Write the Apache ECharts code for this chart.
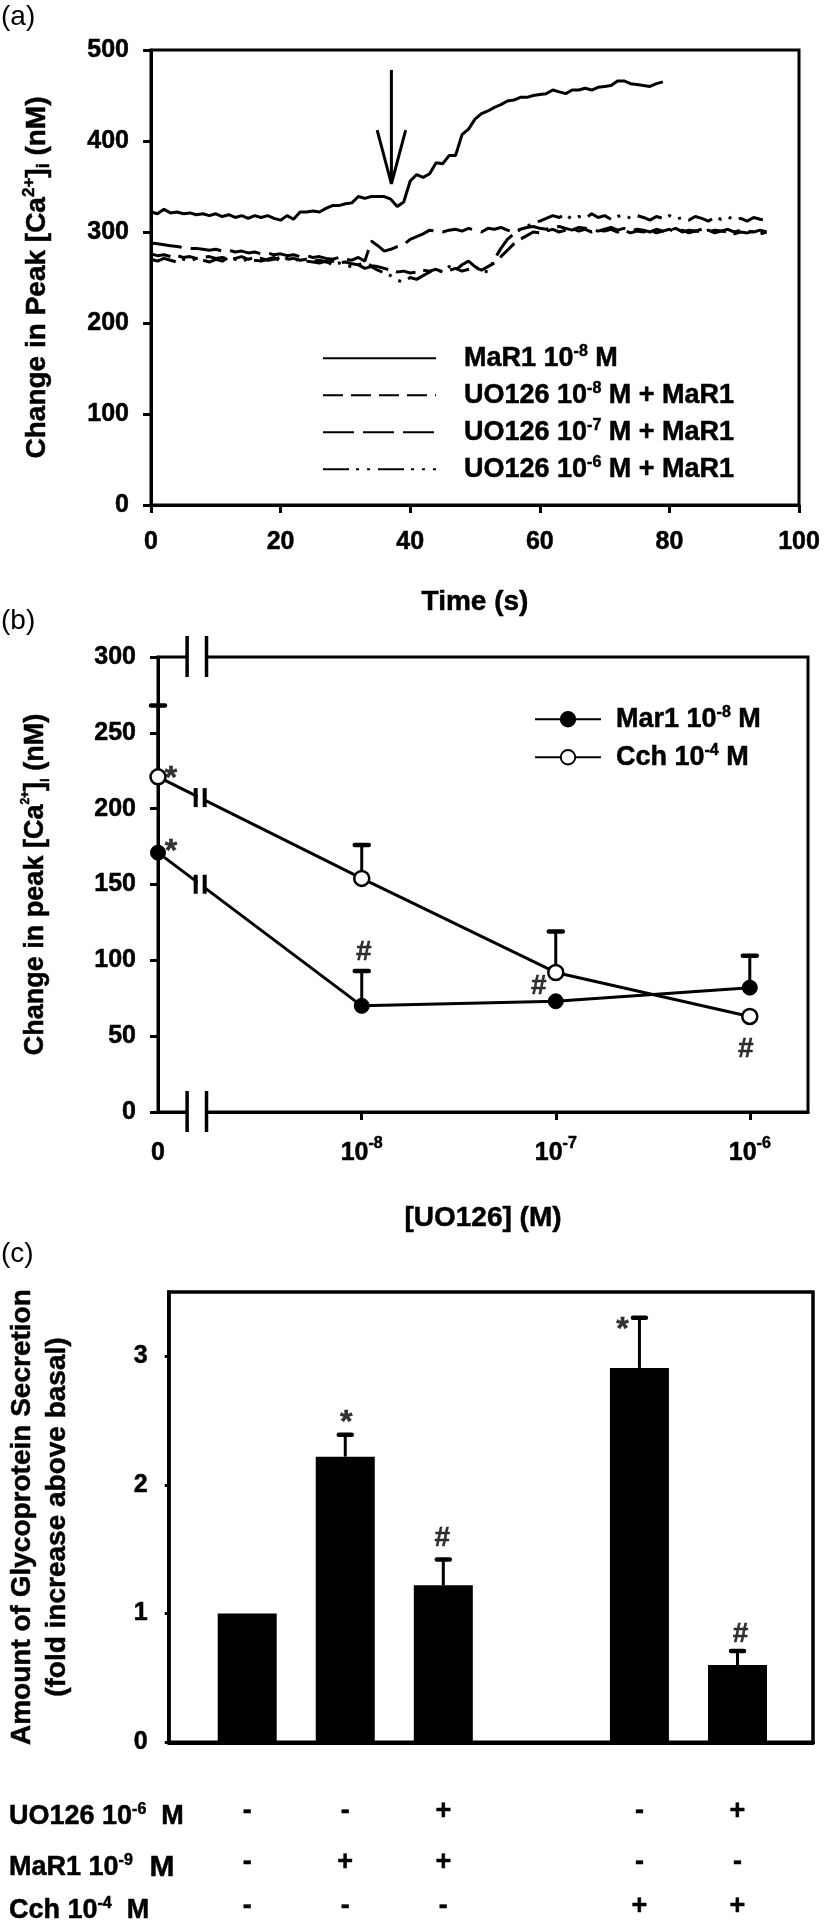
<!DOCTYPE html>
<html><head><meta charset="utf-8">
<script src="https://cdn.jsdelivr.net/npm/echarts@6/dist/echarts.min.js"></script>
<style>html,body{margin:0;padding:0;background:#fff}#c{width:824px;height:1920px}</style>
</head><body><div id="c"></div>
<script>
// ---------------- Panel (a) data ----------------
const timeS = [0,1,2,3,4,5,6,7,8,9,10,11,12,13,14,15,16,17,18,19,20,21,22,23,24,25,26,27,28,29,30,31,32,33,34,35,36,37,38,39,40,41,42,43,44,45,46,47,48,49,50,51,52,53,54,55,56,57,58,59,60,61,62,63,64,65,66,67,68,69,70,71,72,73,74,75,76,77,78,79,80,81,82,83,84,85,86,87,88,89,90,91,92,93,94,95];
const mar1Trace = [322,320,325,321,322,320,321,319,320,318,320,317,319,316,318,315,318,316,318,315,313,318,314,322,322,323,322,326,329,329,331,332,339,337,339,339,339,336,328,333,356,363,360,364,376,375,384,384,407,413,424,430,433,437,440,444,445,448,448,450,451,452,456,454,452,456,456,458,456,459,460,461,466,466,463,462,461,460,463,465];
const uo8Trace = [276,274,275,273,274,272,273,271,272,273,271,272,270,271,273,270,272,271,269,270,272,270,271,269,270,268,269,267,268,266,267,265,264,266,263,262,260,258,256,257,255,256,258,257,259,256,258,260,257,259,261,258,262,266,273,280,287,292,296,300,299,301,303,300,302,304,301,303,300,302,301,303,300,302,299,301,300,302,299,301,303,300,302,299,301,300,302,299,301,300,298,300,299,301,298,300];
const uo7Trace = [288,287,286,285,284,283,282,282,281,280,281,279,280,278,279,277,278,276,277,275,276,274,275,273,274,272,273,271,270,272,270,269,272,268,290,285,279,281,284,286,292,295,298,302,301,300,302,303,301,304,302,300,304,303,305,302,300,303,305,306,304,303,305,306,304,302,305,304,303,301,303,305,302,304,301,303,302,300,303,301,302,304,300,302,301,303,300,302,301,303,300,302,301,300,302,300];
const uo6Trace = [270,268,271,269,267,270,268,271,269,267,270,268,272,270,267,271,269,268,270,272,268,271,269,270,268,267,266,268,264,266,263,262,264,260,262,258,255,252,247,245,250,248,252,256,258,257,262,258,264,268,262,258,256,270,282,292,298,303,306,310,312,315,318,316,319,314,317,315,320,316,318,314,317,319,315,318,316,313,317,315,318,314,316,313,317,315,312,316,314,317,313,315,312,316,314,313];
const arrowShaft = [[37.1, 478], [37.1, 353]];
const arrowHead = [[34.9, 412], [37.1, 353], [39.3, 412]];
const traceNames = ['MaR1 10-8 M', 'UO126 10-8 M + MaR1', 'UO126 10-7 M + MaR1', 'UO126 10-6 M + MaR1'];
const traceLegendText = ['{f|MaR1 10}{s|-8}{b| M}', '{f|UO126 10}{s|-8}{b| M + MaR1}', '{f|UO126 10}{s|-7}{b| M + MaR1}', '{f|UO126 10}{s|-6}{b| M + MaR1}'];

// ---------------- Panel (b) data ----------------
const concTickLabels = ['0', '10^-8', '10^-7', '10^-6'];
const concExponent = [null, -8, -7, -6];
const mar1Peak = [171, 70, 73, 82];
const mar1ErrUp = [0, 23, 0, 21];
const cchPeak = [221, 154, 92, 63];
const cchErrUp = [47, 22, 27, 0];
const bNames = ['Mar1 10-8 M', 'Cch 10-4 M'];
const bLegendText = ['{f|Mar1 10}{s|-8}{b| M}', '{f|Cch 10}{s|-4}{b| M}'];

// ---------------- Panel (c) data ----------------
const glycoSlot = [1, 2, 3, 5, 6];
const glycoFold = [1.0, 2.22, 1.22, 2.91, 0.60];
const glycoErrUp = [0, 0.17, 0.20, 0.39, 0.11];
const glycoMark = ['', '*', '#', '*', '#'];
const uoSigns = ['-', '-', '+', '-', '+'];
const marSigns = ['-', '+', '+', '-', '-'];
const cchSigns = ['-', '-', '-', '+', '+'];
const rowLabels = ['{a|UO126 10}{s|-6}{a|  M}', '{a|MaR1 10}{s|-9}{m|  M}', '{a|Cch 10}{s|-4}{a|  M}'];

// ---------------- styling helpers ----------------
const FONT = "'Liberation Sans', Arial, Helvetica, sans-serif";
const K = '#000';
const ZERO_POS = -9.05;       // where the "0" concentration sits (left of the axis break)
const BREAK_X1 = -8.9, BREAK_X2 = -8.8, LINE_BREAK_X = -8.83;
const HEAVY = {textBorderColor: '#000', textBorderWidth: 0.5};

function txt(size, extra) { return Object.assign({fontFamily: FONT, fontWeight: 'bold', fontSize: size, color: K}, HEAVY, extra || {}); }
// zrender-level text style for graphic elements
function ztxt(size, extra) { return Object.assign({fontFamily: FONT, fontWeight: 'bold', fontSize: size, fill: K, stroke: K, lineWidth: 0.5}, extra || {}); }
const legendRich = (pad) => ({
  f: txt(27, {lineHeight: 30, padding: [0, 0, 0, pad]}),
  b: txt(27, {lineHeight: 30}),
  s: txt(16, {lineHeight: 18, verticalAlign: 'top'})
});
const axisLine = (w) => ({onZero: false, lineStyle: {color: K, width: w}});
const axisTick = (len, w) => ({length: len, lineStyle: {color: K, width: w}});
const tickLabel = (m) => Object.assign({color: K, fontSize: 25, fontWeight: 'bold', fontFamily: FONT, margin: m}, HEAVY);
const nameStyle = txt(28);

function bPos(i) { return concExponent[i] === null ? ZERO_POS : concExponent[i]; }

function errRender(capW) {
  return function (params, api) {
    const x = api.value(0), y = api.value(1), e = api.value(2);
    if (!e) return null;
    const p0 = api.coord([x, y]), p1 = api.coord([x, y + e]);
    return {type: 'group', children: [
      {type: 'line', shape: {x1: p0[0], y1: p0[1], x2: p1[0], y2: p1[1]}, style: {stroke: K, lineWidth: 3}},
      {type: 'line', shape: {x1: p1[0] - capW / 2, y1: p1[1], x2: p1[0] + capW / 2, y2: p1[1]}, style: {stroke: K, lineWidth: 4.5, lineCap: 'round'}}
    ]};
  };
}

const chart = echarts.init(document.getElementById('c'), null, {renderer: 'canvas'});

const traceData = [mar1Trace, uo8Trace, uo7Trace, uo6Trace];
const dashTypes = ['solid', [20, 8], [31, 9], [26, 7, 3, 8, 3, 8]];
const traceSeries = traceData.map((arr, k) => ({
  name: traceNames[k], type: 'line', xAxisIndex: 0, yAxisIndex: 0,
  data: arr.map((v, i) => [timeS[i], v]), symbol: 'none', showSymbol: false,
  lineStyle: {color: K, width: 3, type: dashTypes[k]}, itemStyle: {color: K}, z: 3
}));

const option = {
  animation: false,
  backgroundColor: '#fff',
  graphic: [
    {type: 'text', x: 1, y: 3, style: {text: '(a)', font: "normal 28px 'Liberation Sans', Arial, sans-serif", fill: K}},
    {type: 'text', x: 1, y: 607, style: {text: '(b)', font: "normal 28px 'Liberation Sans', Arial, sans-serif", fill: K}},
    {type: 'text', x: 1, y: 1240, style: {text: '(c)', font: "normal 28px 'Liberation Sans', Arial, sans-serif", fill: K}}
  ].concat([1817, 1868, 1911].map((yy, r) => ({
    type: 'text', x: 9, y: yy, style: {text: rowLabels[r], verticalAlign: 'middle', align: 'left',
      rich: {a: ztxt(27, {lineHeight: 30}), m: ztxt(30, {lineHeight: 30}), s: ztxt(16, {lineHeight: 18, verticalAlign: 'top'})}}
  }))),
  legend: [
    {orient: 'vertical', left: 317, top: 338, itemWidth: 113, itemHeight: 14, itemGap: 8,
     data: traceNames, selectedMode: false, itemStyle: {opacity: 0},
     formatter: (n) => traceLegendText[traceNames.indexOf(n)], textStyle: {rich: legendRich(23)}},
    {orient: 'vertical', left: 529, top: 699, itemWidth: 66, itemHeight: 18, itemGap: 9,
     data: bNames, selectedMode: false,
     formatter: (n) => bLegendText[bNames.indexOf(n)], textStyle: {rich: legendRich(10)}}
  ],
  grid: [
    {left: 151, top: 50, width: 648, height: 455, show: true, borderColor: K, borderWidth: 3, containLabel: false},
    {left: 158, top: 657, width: 650, height: 455, show: true, borderColor: K, borderWidth: 3, containLabel: false},
    {left: 167, top: 1292, width: 646, height: 456, show: true, borderColor: K, borderWidth: 3.5, containLabel: false}
  ],
  xAxis: [
    {gridIndex: 0, type: 'value', min: 0, max: 100, interval: 20, axisLine: axisLine(3), axisTick: axisTick(8, 3),
     axisLabel: tickLabel(25), splitLine: {show: false},
     name: 'Time (s)', nameLocation: 'middle', nameGap: 83, nameTextStyle: nameStyle},
    {gridIndex: 1, type: 'value', min: ZERO_POS, max: -5.7, axisLine: axisLine(3),
     axisTick: Object.assign(axisTick(8, 3), {customValues: [-8, -7, -6]}),
     axisLabel: Object.assign(tickLabel(24), {
       customValues: [ZERO_POS, -8, -7, -6],
       formatter: (v) => {
         if (Math.abs(v - ZERO_POS) < 1e-6) return '{b|0}';
         const idx = concExponent.indexOf(Math.round(v));
         const parts = concTickLabels[idx].split('^');
         return '{b|' + parts[0] + '}{s|' + parts[1] + '}';
       },
       rich: {b: txt(25, {lineHeight: 30, verticalAlign: 'bottom'}), s: txt(16, {lineHeight: 18, verticalAlign: 'top'})}
     }),
     splitLine: {show: false},
     name: '[UO126] (M)', nameLocation: 'middle', nameGap: 92, nameTextStyle: nameStyle},
    {gridIndex: 2, type: 'value', min: 0.2, max: 6.77, axisLine: axisLine(4), axisTick: {show: false},
     axisLabel: {show: false}, splitLine: {show: false}},
    // table rows below panel (c)
    ...[uoSigns, marSigns, cchSigns].map((signs, r) => ({
      gridIndex: 2, type: 'value', position: 'bottom', offset: [56, 107, 151][r], min: 0.2, max: 6.77,
      axisLine: {show: false}, axisTick: {show: false}, splitLine: {show: false},
      axisLabel: Object.assign({customValues: glycoSlot, margin: 0, color: K, fontSize: 27, fontWeight: 'bold', fontFamily: FONT, lineHeight: 26,
        formatter: (v) => signs[glycoSlot.indexOf(Math.round(v))]}, HEAVY)
    }))
  ],
  yAxis: [
    {gridIndex: 0, type: 'value', min: 0, max: 500, interval: 100, axisLine: axisLine(3), axisTick: axisTick(8, 3),
     axisLabel: tickLabel(22), splitLine: {show: false},
     name: '{n|Change in Peak [Ca}{s|2+}{n|]}{u|i}{n| (nM)}', nameLocation: 'middle', nameGap: 98,
     nameTextStyle: {rich: {n: txt(28, {lineHeight: 32}), s: txt(17, {lineHeight: 20, verticalAlign: 'top'}), u: txt(18, {lineHeight: 26, verticalAlign: 'bottom'})}}},
    {gridIndex: 1, type: 'value', min: 0, max: 300, interval: 50, axisLine: axisLine(3), axisTick: axisTick(8, 3),
     axisLabel: tickLabel(22), splitLine: {show: false},
     name: '{n|Change in peak [Ca}{s|2+}{n|]}{u|i}{n| (nM)}', nameLocation: 'middle', nameGap: 106,
     nameTextStyle: {rich: {n: txt(27, {lineHeight: 32}), s: txt(12, {lineHeight: 16, verticalAlign: 'top'}), u: txt(13, {lineHeight: 26, verticalAlign: 'bottom'})}}},
    {gridIndex: 2, type: 'value', min: 0, max: 3.5, axisLine: axisLine(3.5), axisTick: Object.assign(axisTick(4, 3), {customValues: [0, 1, 2, 3]}),
     axisLabel: Object.assign(tickLabel(21), {customValues: [0, 1, 2, 3]}), splitLine: {show: false},
     name: '{n|Amount of Glycoprotein Secretion}\n{n|(fold increase above basal)}', nameLocation: 'middle', nameGap: 94,
     nameTextStyle: {rich: {n: txt(28, {lineHeight: 35})}}}
  ],
  series: [
    ...traceSeries,
    {type: 'line', xAxisIndex: 0, yAxisIndex: 0, data: arrowShaft, symbol: 'none', lineStyle: {color: K, width: 3}, z: 4},
    {type: 'line', xAxisIndex: 0, yAxisIndex: 0, data: arrowHead, symbol: 'none', lineStyle: {color: K, width: 3}, z: 4},
    // panel b
    {name: bNames[0], type: 'line', xAxisIndex: 1, yAxisIndex: 1, data: mar1Peak.map((v, i) => [bPos(i), v]),
     symbol: 'circle', symbolSize: 15, showSymbol: true, lineStyle: {color: K, width: 3}, itemStyle: {color: K, borderColor: K, borderWidth: 1}, z: 4},
    {name: bNames[1], type: 'line', xAxisIndex: 1, yAxisIndex: 1, data: cchPeak.map((v, i) => [bPos(i), v]),
     symbol: 'circle', symbolSize: 15, showSymbol: true, lineStyle: {color: K, width: 3}, itemStyle: {color: '#fff', borderColor: K, borderWidth: 2.5}, z: 5},
    {type: 'custom', xAxisIndex: 1, yAxisIndex: 1, renderItem: errRender(14), z: 3, clip: false,
     data: mar1Peak.map((v, i) => [bPos(i), v, mar1ErrUp[i]]).concat(cchPeak.map((v, i) => [bPos(i), v, cchErrUp[i]]))},
    // axis breaks
    {type: 'custom', xAxisIndex: 1, yAxisIndex: 1, z: 6, clip: false, data: [[0], [300]],
     renderItem: function (params, api) {
       const yv = api.value(0);
       const a = api.coord([BREAK_X1, yv]), b = api.coord([BREAK_X2, yv]);
       return {type: 'group', children: [
         {type: 'rect', shape: {x: a[0], y: a[1] - 4, width: b[0] - a[0], height: 8}, style: {fill: '#fff'}},
         {type: 'line', shape: {x1: a[0], y1: a[1] - 21, x2: a[0], y2: a[1] + 20}, style: {stroke: K, lineWidth: 3.5}},
         {type: 'line', shape: {x1: b[0], y1: b[1] - 21, x2: b[0], y2: b[1] + 20}, style: {stroke: K, lineWidth: 3.5}}
       ]};
     }},
    // break marks on the data lines
    {type: 'custom', xAxisIndex: 1, yAxisIndex: 1, z: 6, clip: false,
     data: [[bPos(0), mar1Peak[0], bPos(1), mar1Peak[1]], [bPos(0), cchPeak[0], bPos(1), cchPeak[1]]],
     renderItem: function (params, api) {
       const p0 = api.coord([api.value(0), api.value(1)]), p1 = api.coord([api.value(2), api.value(3)]);
       const bx = api.coord([LINE_BREAK_X, 0])[0];
       const t = (bx - p0[0]) / (p1[0] - p0[0]);
       const by = p0[1] + t * (p1[1] - p0[1]);
       return {type: 'group', children: [
         {type: 'rect', shape: {x: bx - 3, y: by - 4, width: 6, height: 8}, style: {fill: '#fff'}},
         {type: 'rect', shape: {x: bx - 7, y: by - 10, width: 4, height: 19}, style: {fill: K}},
         {type: 'rect', shape: {x: bx + 2, y: by - 10, width: 4, height: 19}, style: {fill: K}}
       ]};
     }},
    // annotations panel b
    {type: 'scatter', xAxisIndex: 1, yAxisIndex: 1, symbolSize: 0, z: 7, silent: true,
     label: Object.assign({show: true, position: 'inside', color: K, fontFamily: FONT, fontWeight: 'bold', fontSize: 28}, HEAVY),
     data: [
       {value: [bPos(0), cchPeak[0]], label: {formatter: '*', offset: [13, 2], fontSize: 32}},
       {value: [bPos(0), mar1Peak[0]], label: {formatter: '*', offset: [13, 0], fontSize: 32}},
       {value: [bPos(1), mar1Peak[1]], label: {formatter: '#', offset: [2, -54]}},
       {value: [bPos(2), mar1Peak[2]], label: {formatter: '#', offset: [-17, -15]}},
       {value: [bPos(3), cchPeak[3]], label: {formatter: '#', offset: [-4, 33]}}
     ]},
    // panel c bars
    {type: 'bar', xAxisIndex: 2, yAxisIndex: 2, data: glycoFold.map((v, i) => [glycoSlot[i], v]), barWidth: 59,
     itemStyle: {color: K}, z: 2},
    {type: 'custom', xAxisIndex: 2, yAxisIndex: 2, renderItem: errRender(13), z: 3, clip: false,
     data: glycoFold.map((v, i) => [glycoSlot[i], v, glycoErrUp[i]])},
    {type: 'scatter', xAxisIndex: 2, yAxisIndex: 2, symbolSize: 0, z: 7, silent: true,
     label: Object.assign({show: true, position: 'inside', color: K, fontFamily: FONT, fontWeight: 'bold', fontSize: 28}, HEAVY),
     data: glycoFold.map((v, i) => ({value: [glycoSlot[i], v],
       label: {formatter: glycoMark[i] || ' ', offset: [[0, 0], [1, -33], [-1, -47], [-17, -38], [3, -31]][i], fontSize: glycoMark[i] === '*' ? 32 : 28}}))}
  ]
};
chart.setOption(option);
</script></body></html>
